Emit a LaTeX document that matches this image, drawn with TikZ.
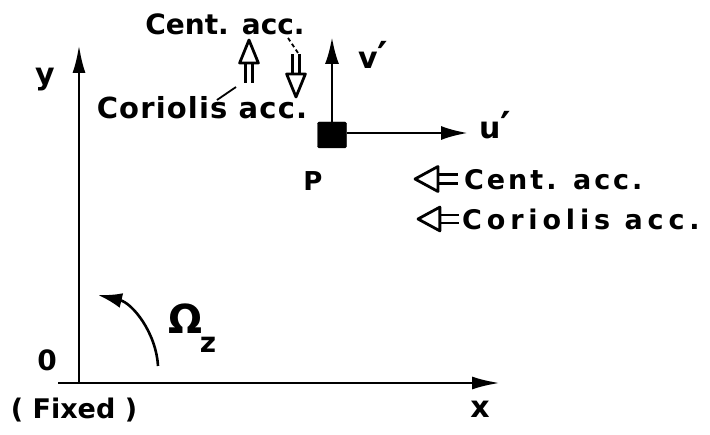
\documentclass[tikz,border=0pt]{standalone}
\usepackage{fontspec}
\setmainfont{DejaVu Sans}
\newfontfamily\lbl{DejaVu Sans Bold}
\usetikzlibrary{arrows.meta,calc}
\newcommand{\bigprime}{{\fontsize{40}{40}\selectfont\raisebox{-2pt}{′}}}
\begin{document}
\begin{tikzpicture}[x=1pt,y=-1pt,
  axis/.style={line width=2.8pt,-{Latex[length=28pt,width=13pt]}},
  vec/.style={line width=2.8pt,-{Latex[length=27pt,width=14pt]}},
  lab/.style={inner sep=0pt,font=\lbl\fontsize{#1}{#1}\selectfont},
  lab/.default=24,
  leader/.style={line width=1.8pt},
  hollowarrow/.pic={
    \draw[line width=2.8pt] (-22,-4.2)--(-43,-4.2) (-22,4.2)--(-43,4.2);
    \draw[line width=2.8pt,fill=white,line join=round] (0,0)--(-23,-12.5)--(-23,12.5)--cycle;
  }]
\useasboundingbox (0,0) rectangle (710,435);
% axes
\coordinate (O) at (79,383);
\coordinate (Xs) at (58,383);
\coordinate (Xe) at (500,383);
\coordinate (Ye) at (79,45);
\draw[axis] (Xs) -- (Xe);
\draw[axis] (O) -- (Ye);
\node[lab=30] (ylab) at (45,80) {y};
\node[lab=28] (zero) at (47,360) {0};
\node[lab=27] (fixed) at (74,410) {( Fixed )};
\node[lab=30] (xlab) at (480,409) {x};
% rotation
\coordinate (Ws) at (158,366);
\coordinate (We) at (98,295);
\draw[line width=2.6pt,-{Latex[length=24pt,width=15pt]}] (Ws) .. controls (156,332) and (132,303) .. (We);
\node[lab=40] (Om) at (186,319) {Ω};
\node[lab=28] (Omz) at (208,345) {z};
% particle P
\node[draw,fill=black,minimum width=29pt,minimum height=26pt,inner sep=0pt,rounded corners=1.5pt] (P) at (332,135) {};
\coordinate (Vt) at (332,37);
\coordinate (Ut) at (468,133);
\draw[vec] (P.north) -- (Vt);
\draw[vec] (P.east |- Ut) -- (Ut);
\node[lab=30,anchor=west] (vlab) at (358,56) {v\bigprime};
\node[lab=30,anchor=west] (ulab) at (479,126) {u\bigprime};
\node[lab=26] (Plab) at (313,181) {P};
% top labels
\node[lab=28] (tcent) at (225,24) {Cent. acc.};
\node[lab=29] (tcor) at (202,108) {\addfontfeature{LetterSpace=4}Coriolis acc.};
\pic[rotate=90,yscale=0.75] at (249,40) {hollowarrow};
\pic[rotate=-90,yscale=0.75] at (296,97) {hollowarrow};
\coordinate (d1) at (288,38);
\coordinate (d2) at (298,53);
\draw[leader,dash pattern=on 4pt off 3pt] (d1) -- (d2);
\coordinate (l1) at (217,100);
\coordinate (l2) at (236,87);
\draw[leader] (l1) -- (l2);
% right labels
\pic[rotate=180] at (415,179) {hollowarrow};
\pic[rotate=180,scale=0.95] at (418,219) {hollowarrow};
\node[lab=27,anchor=west] (rcent) at (464,180) {\addfontfeature{LetterSpace=11}Cent. acc.};
\node[lab=27,anchor=west] (rcor) at (462,219) {\addfontfeature{LetterSpace=18}Coriolis acc.};
\end{tikzpicture}
\end{document}
